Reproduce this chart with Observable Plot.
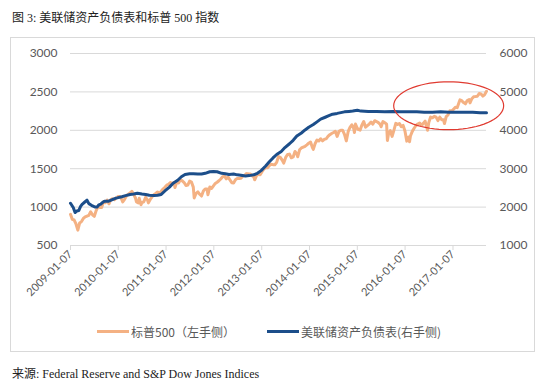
<!DOCTYPE html>
<html>
<head>
<meta charset="utf-8">
<script src="https://cdn.jsdelivr.net/npm/d3@7"></script>
<script src="https://cdn.jsdelivr.net/npm/@observablehq/plot@0.6"></script>
<style>
  html, body { margin:0; padding:0; background:#fff; }
  body { width:541px; height:387px; position:relative; overflow:hidden; }
  #title { position:absolute; left:12px; top:8px; font-family:"Liberation Serif","Noto Sans CJK SC",serif; font-size:12px; color:#222; white-space:nowrap; }
  #frame { position:absolute; left:10px; top:37px; width:523px; height:313px; border:1px solid #d9d9d9; box-sizing:content-box; }
  #chart { position:absolute; left:0; top:0; }
  #legend { position:absolute; left:0; top:283px; width:523px; height:20px; font-family:"Noto Sans CJK SC",Lato,sans-serif; font-size:12px; color:#595959; }
  .item { position:absolute; top:0; display:flex; align-items:center; height:20px; white-space:nowrap; }
  .swatch { display:inline-block; width:32px; height:3px; margin-right:2px; }
  #caption { position:absolute; left:12px; top:364px; font-family:"Liberation Serif","Noto Sans CJK SC",serif; font-size:12px; color:#222; white-space:nowrap; }
</style>
</head>
<body>
<div id="title">图 3: 美联储资产负债表和标普 500 指数</div>
<div id="frame">
  <div id="chart"></div>
  <div id="legend"></div>
</div>
<div id="caption">来源: Federal Reserve and S&amp;P Dow Jones Indices</div>
<script>
// ---------------- data ----------------
const spxDates = [
"2009-01-07","2009-01-21","2009-02-04","2009-02-18","2009-03-04","2009-03-18","2009-04-01","2009-04-15","2009-04-29","2009-05-13","2009-05-27","2009-06-10","2009-06-24","2009-07-08","2009-07-22","2009-08-05","2009-08-19","2009-09-02","2009-09-16","2009-09-30","2009-10-14","2009-10-28","2009-11-11","2009-11-25","2009-12-09","2009-12-23",
"2010-01-06","2010-01-20","2010-02-03","2010-02-10","2010-02-24","2010-03-10","2010-03-24","2010-04-07","2010-04-21","2010-05-05","2010-05-19","2010-05-26","2010-06-09","2010-06-16","2010-06-30","2010-07-07","2010-07-21","2010-08-04","2010-08-18","2010-08-25","2010-09-08","2010-09-22","2010-10-06","2010-10-20","2010-11-03","2010-11-17","2010-12-01","2010-12-15","2010-12-29",
"2011-01-12","2011-01-26","2011-02-09","2011-02-23","2011-03-09","2011-03-16","2011-03-30","2011-04-13","2011-04-27","2011-05-11","2011-05-25","2011-06-08","2011-06-22","2011-07-06","2011-07-20","2011-08-03","2011-08-10","2011-08-24","2011-09-07","2011-09-21","2011-10-05","2011-10-19","2011-11-02","2011-11-16","2011-11-23","2011-12-07","2011-12-21",
"2012-01-04","2012-01-18","2012-02-01","2012-02-15","2012-02-29","2012-03-14","2012-03-28","2012-04-11","2012-04-25","2012-05-09","2012-05-23","2012-06-06","2012-06-20","2012-07-04","2012-07-18","2012-08-01","2012-08-15","2012-08-29","2012-09-12","2012-09-26","2012-10-10","2012-10-24","2012-11-07","2012-11-14","2012-11-28","2012-12-12","2012-12-26",
"2013-01-09","2013-01-23","2013-02-06","2013-02-20","2013-03-06","2013-03-20","2013-04-03","2013-04-17","2013-05-01","2013-05-15","2013-05-29","2013-06-12","2013-06-24","2013-07-10","2013-07-24","2013-08-07","2013-08-21","2013-09-04","2013-09-18","2013-10-02","2013-10-09","2013-10-23","2013-11-06","2013-11-20","2013-12-04","2013-12-18",
"2014-01-01","2014-01-15","2014-01-29","2014-02-05","2014-02-19","2014-03-05","2014-03-19","2014-04-02","2014-04-16","2014-04-30","2014-05-14","2014-05-28","2014-06-11","2014-06-25","2014-07-09","2014-07-23","2014-08-06","2014-08-20","2014-09-03","2014-09-17","2014-10-01","2014-10-15","2014-10-29","2014-11-12","2014-11-26","2014-12-10","2014-12-16","2014-12-24",
"2015-01-07","2015-01-14","2015-01-28","2015-02-11","2015-02-25","2015-03-11","2015-03-25","2015-04-08","2015-04-22","2015-05-06","2015-05-20","2015-06-03","2015-06-17","2015-07-01","2015-07-08","2015-07-22","2015-08-05","2015-08-19","2015-08-25","2015-09-02","2015-09-16","2015-09-30","2015-10-14","2015-10-28","2015-11-11","2015-11-25","2015-12-09","2015-12-23",
"2016-01-06","2016-01-20","2016-02-03","2016-02-10","2016-02-17","2016-03-02","2016-03-16","2016-03-30","2016-04-13","2016-04-27","2016-05-11","2016-05-25","2016-06-08","2016-06-27","2016-07-06","2016-07-20","2016-08-03","2016-08-17","2016-08-31","2016-09-14","2016-09-28","2016-10-12","2016-10-26","2016-11-03","2016-11-16","2016-11-30","2016-12-14","2016-12-28",
"2017-01-11","2017-01-25","2017-02-08","2017-02-22","2017-03-01","2017-03-15","2017-03-29","2017-04-12","2017-04-26","2017-05-10","2017-05-17","2017-05-31","2017-06-14","2017-06-28","2017-07-12","2017-07-26","2017-08-09","2017-08-23","2017-09-06","2017-09-20"
];
const spxValues = [
906,840,832,780,700,794,811,852,873,883,893,939,900,880,954,1002,996,995,1068,1057,1092,1043,1099,1110,1095,1120,
1137,1138,1097,1068,1102,1145,1167,1182,1205,1165,1115,1067,1055,1114,1031,1060,1069,1127,1095,1055,1099,1134,1160,1178,1197,1178,1206,1236,1259,
1285,1297,1321,1307,1320,1256,1328,1315,1356,1342,1320,1280,1287,1339,1326,1260,1120,1177,1199,1167,1144,1209,1237,1236,1161,1261,1243,
1277,1308,1324,1343,1366,1395,1405,1368,1390,1354,1318,1315,1356,1374,1372,1376,1405,1410,1436,1433,1432,1408,1394,1355,1409,1428,1420,
1461,1494,1512,1511,1541,1558,1553,1552,1582,1658,1648,1612,1573,1652,1685,1690,1642,1653,1725,1693,1656,1746,1770,1781,1792,1810,
1832,1848,1774,1751,1828,1873,1860,1890,1862,1883,1888,1920,1943,1959,1972,1987,1920,1986,2000,2001,1946,1862,1982,2038,2072,2026,1972,2081,
2026,2011,2002,2068,2114,2040,2061,2082,2107,2080,2125,2114,2100,2077,2046,2114,2099,2079,1868,1948,1995,1920,2003,2090,2075,2089,2047,2064,
1990,1859,1912,1852,1926,1986,2027,2063,2082,2095,2064,2090,2119,2000,2100,2173,2163,2182,2171,2126,2171,2139,2139,2088,2177,2199,2254,2250,
2275,2299,2295,2363,2396,2385,2361,2345,2388,2400,2357,2412,2438,2440,2443,2478,2474,2445,2466,2508
];

const fedDates = [
"2009-01-07","2009-01-28","2009-02-11","2009-02-25","2009-03-11","2009-03-25","2009-04-08","2009-04-22","2009-05-13","2009-05-27","2009-06-10","2009-06-24","2009-07-15","2009-07-29","2009-08-12","2009-08-26","2009-09-09","2009-09-23","2009-10-21","2009-11-18","2009-12-16","2009-12-30",
"2010-02-03","2010-03-03","2010-04-07","2010-05-05","2010-06-02","2010-07-07","2010-08-04","2010-09-01","2010-10-06","2010-11-03","2010-12-01","2010-12-29",
"2011-02-02","2011-03-02","2011-04-06","2011-05-04","2011-06-01","2011-07-06","2011-08-03","2011-09-07","2011-10-05","2011-11-02","2011-12-07",
"2012-01-04","2012-02-01","2012-03-07","2012-04-04","2012-05-02","2012-06-06","2012-07-04","2012-08-01","2012-09-05","2012-10-03","2012-11-07","2012-12-05",
"2013-01-02","2013-02-06","2013-03-06","2013-04-03","2013-05-01","2013-06-05","2013-07-03","2013-08-07","2013-09-04","2013-10-02","2013-11-06","2013-12-04",
"2014-01-01","2014-02-05","2014-03-05","2014-04-02","2014-05-07","2014-06-04","2014-07-02","2014-08-06","2014-09-03","2014-10-01","2014-11-05","2014-12-03",
"2015-01-07","2015-02-04","2015-04-01","2015-06-03","2015-08-05","2015-10-07","2015-12-02",
"2016-02-03","2016-04-06","2016-06-01","2016-08-03","2016-10-05","2016-12-07",
"2017-02-01","2017-04-05","2017-06-07","2017-08-02","2017-09-20"
];
const fedValues = [
2100,1990,1860,1900,1910,2020,2080,2120,2180,2090,2060,2030,2000,2000,2060,2080,2120,2150,2150,2190,2230,2240,
2270,2300,2330,2340,2360,2340,2330,2310,2300,2310,2330,2420,
2520,2620,2700,2790,2850,2870,2870,2860,2860,2880,2920,
2930,2920,2880,2870,2850,2860,2840,2830,2810,2820,2840,2880,
2950,3070,3180,3280,3370,3450,3550,3650,3740,3850,3930,4010,
4080,4150,4220,4290,4340,4380,4420,4440,4460,4480,4490,4500,
4520,4500,4490,4490,4480,4490,4480,
4480,4480,4470,4470,4480,4470,
4470,4470,4470,4460,4460
];

const xTickDates = ["2009-01-07","2010-01-07","2011-01-07","2012-01-07","2013-01-07","2014-01-07","2015-01-07","2016-01-07","2017-01-07"];
const leftTicks = [500, 1000, 1500, 2000, 2500, 3000];
const rightTickLabels = ["1000","2000","3000","4000","5000","6000"];
const seriesNames = ["标普500（左手侧）", "美联储资产负债表(右手侧)"];
const seriesColors = ["#F4B183", "#1C4E8A"];

// annotation ellipse (in data units)
const ellipseCenterDate = "2016-12-05";
const ellipseCenterValue = 2320;
const ellipseRadiusDays = 420;
const ellipseRadiusValue = 312;

// ---------------- build ----------------
const parse = d3.utcParse("%Y-%m-%d");
const spx = spxDates.map((d, i) => ({date: parse(d), value: spxValues[i]}));
const fed = fedDates.map((d, i) => ({date: parse(d), value: fedValues[i] / 2})); // right axis = 2 × left axis
const xTicks = xTickDates.map(parse);
const dayMs = 24 * 3600 * 1000;
const ec = parse(ellipseCenterDate).getTime();
const ellipse = d3.range(0, 73).map(k => {
  const t = k / 72 * 2 * Math.PI;
  return {date: new Date(ec + Math.cos(t) * ellipseRadiusDays * dayMs), value: ellipseCenterValue + Math.sin(t) * ellipseRadiusValue};
});

const chart = Plot.plot({
  width: 523,
  height: 270,
  marginLeft: 59,
  marginRight: 48,
  marginTop: 15,
  marginBottom: 63,
  style: {fontFamily: "Lato, 'Noto Sans', sans-serif", fontSize: "12px", color: "#595959", background: "transparent", overflow: "visible"},
  x: {type: "utc", domain: [parse(spxDates[0]), parse(spxDates[spxDates.length - 1])]},
  y: {domain: [500, 3000]},
  marks: [
    Plot.gridY(leftTicks, {stroke: "#d9d9d9", strokeOpacity: 1, strokeWidth: 1}),
    Plot.axisY(leftTicks, {anchor: "left", tickSize: 0, tickPadding: 13, label: null, fill: "#595959", fontSize: 12,
      tickFormat: d => String(d)}),
    Plot.axisY(leftTicks, {anchor: "right", tickSize: 0, tickPadding: 13, label: null, fill: "#595959", fontSize: 12,
      tickFormat: (d, i) => rightTickLabels[i]}),
    Plot.axisX(xTicks, {anchor: "bottom", tickSize: 5, tickPadding: 2, tickRotate: -45, label: null,
      stroke: "#d9d9d9", fill: "#595959", fontSize: 11, tickFormat: d3.utcFormat("%Y-%m-%d")}),
    Plot.line(spx, {x: "date", y: "value", stroke: seriesColors[0], strokeWidth: 3, strokeLinejoin: "round"}),
    Plot.line(fed, {x: "date", y: "value", stroke: seriesColors[1], strokeWidth: 3, strokeLinejoin: "round"}),
    Plot.line(ellipse, {x: "date", y: "value", stroke: "#E03A30", strokeWidth: 1.2, curve: "linear-closed"})
  ]
});
document.getElementById("chart").appendChild(chart);

// legend
const legend = document.getElementById("legend");
const positions = [86, 256];
seriesNames.forEach((name, i) => {
  const it = document.createElement("div");
  it.className = "item";
  it.style.left = positions[i] + "px";
  it.innerHTML = `<span class="swatch" style="background:${seriesColors[i]}"></span><span>${name}</span>`;
  legend.appendChild(it);
});
</script>
</body>
</html>
